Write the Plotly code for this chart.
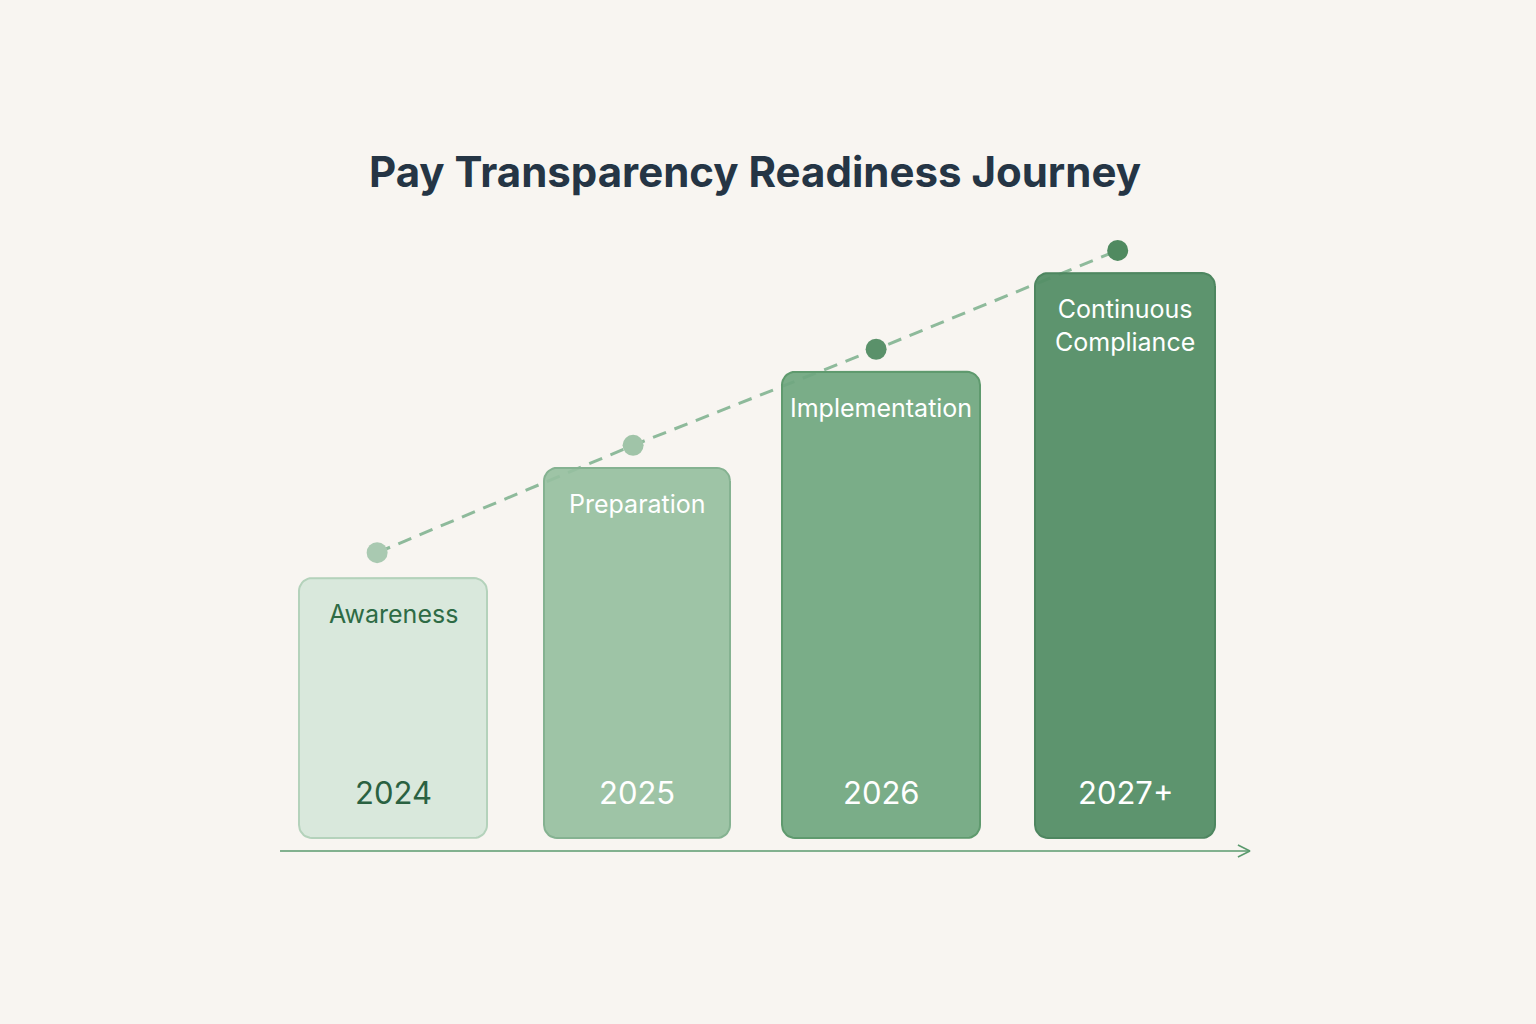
import numpy as np
import plotly.graph_objects as go

# ─────────────────────────── datos ───────────────────────────
STAGES = ["Awareness", "Preparation", "Implementation", "Continuous<br>Compliance"]
YEARS = ["2024", "2025", "2026", "2027+"]
READINESS = [46, 65.5, 82.5, 100]      # altura de cada barra
MILESTONES = [50.5, 69.5, 86.5, 104]   # puntos de la línea de tendencia

# ─────────────────────────── estilo ──────────────────────────
W, H = 1536, 1024
BG = "#f8f5f1"
PX_X = 244.0      # px por categoría
PX_Y = 5.65       # px por unidad
X0_PX, Y0_PX = 393, 838

BAR_W_PX = [188, 186, 198, 180]
RADIUS_PX = 13
DOT_SHIFT = [-0.065, -0.016, -0.02, -0.03]
FILLS = ["rgba(214,230,218,0.92)", "rgba(150,191,160,0.92)",
         "rgba(112,167,128,0.93)", "rgba(84,142,102,0.95)"]
EDGES = ["#b4d2bb", "#85b291", "#5f9a6e", "#4e8660"]
DOTS = ["#a9c9b1", "#a0c4a8", "#5a916a", "#508a60"]
NAME_COL = ["#2e6b45", "#ffffff", "#ffffff", "#ffffff"]
YEAR_COL = ["#2a6141", "#ffffff", "#ffffff", "#ffffff"]
FONT = "Inter"

xs = list(range(len(STAGES)))
x_range = [-X0_PX / PX_X, (W - X0_PX) / PX_X]
y_range = [-(H - Y0_PX) / PX_Y, Y0_PX / PX_Y]
dot_x = [x + s for x, s in zip(xs, DOT_SHIFT)]


def rounded_rect(xc, w, top, r_px):
    """Polígono de rectángulo redondeado en unidades de datos."""
    rx, ry = r_px / PX_X, r_px / PX_Y
    x0, x1, y0, y1 = xc - w / 2, xc + w / 2, 0, top
    pts = []
    corners = [(x1 - rx, y1 - ry, 0, 90), (x0 + rx, y1 - ry, 90, 180),
               (x0 + rx, y0 + ry, 180, 270), (x1 - rx, y0 + ry, 270, 360)]
    for cx, cy, a0, a1 in corners:
        t = np.radians(np.linspace(a0, a1, 10))
        pts += [(cx + rx * np.cos(a), cy + ry * np.sin(a)) for a in t]
    pts.append(pts[0])
    px, py = zip(*pts)
    return list(px), list(py)


fig = go.Figure()

# línea de tendencia punteada (por detrás de las barras)
fig.add_trace(go.Scatter(
    x=dot_x, y=MILESTONES, mode="lines",
    line=dict(color="rgba(130,180,145,0.9)", width=3, dash="14px,9px"),
    hoverinfo="skip", showlegend=False,
))

# barras redondeadas
for i, (x, v) in enumerate(zip(xs, READINESS)):
    bx, by = rounded_rect(x, BAR_W_PX[i] / PX_X, v, RADIUS_PX)
    fig.add_trace(go.Scatter(
        x=bx, y=by, mode="lines", fill="toself",
        fillcolor=FILLS[i], line=dict(color=EDGES[i], width=2),
        hoverinfo="skip", showlegend=False,
    ))

# puntos de hito
fig.add_trace(go.Scatter(
    x=dot_x, y=MILESTONES, mode="markers",
    marker=dict(size=21, color=DOTS, line=dict(width=0)),
    hovertext=[s.replace("<br>", " ") for s in STAGES], hoverinfo="text",
    showlegend=False,
))

# eje temporal con flecha
ax_y = -2.3
ax_x0, ax_x1 = xs[0] - 0.463, xs[-1] + 0.512
fig.add_trace(go.Scatter(
    x=[ax_x0, ax_x1], y=[ax_y, ax_y], mode="lines",
    line=dict(color="#5b9a6e", width=1.6), hoverinfo="skip", showlegend=False,
))
fig.add_trace(go.Scatter(
    x=[ax_x1 - 12 / PX_X, ax_x1, ax_x1 - 12 / PX_X],
    y=[ax_y + 6 / PX_Y, ax_y, ax_y - 6 / PX_Y], mode="lines",
    line=dict(color="#5b9a6e", width=1.6), hoverinfo="skip", showlegend=False,
))

# etiquetas dentro de las barras
for i, (x, v) in enumerate(zip(xs, READINESS)):
    fig.add_annotation(
        x=x, y=v, text=STAGES[i], showarrow=False, xref="x", yref="y",
        yanchor="top", yshift=-19, align="center",
        font=dict(family=FONT, size=25, color=NAME_COL[i]),
    )
    fig.add_annotation(
        x=x, y=0, text=YEARS[i], showarrow=False, xref="x", yref="y",
        yanchor="middle", yshift=46,
        font=dict(family=FONT, size=31, color=YEAR_COL[i]),
    )

fig.update_layout(
    width=W, height=H,
    margin=dict(l=0, r=0, t=0, b=0),
    paper_bgcolor=BG, plot_bgcolor=BG,
    title=dict(
        text="<b>Pay Transparency Readiness Journey</b>",
        x=755 / W, xanchor="center", y=1 - 172 / H, yanchor="middle",
        font=dict(family=FONT, size=42, color="#253545"),
    ),
    xaxis=dict(visible=False, range=x_range, fixedrange=True),
    yaxis=dict(visible=False, range=y_range, fixedrange=True),
    showlegend=False,
)

fig.write_html("out.html",
               config={"displayModeBar": False},
               post_script="document.body.style.margin='0';"
                           "document.body.style.background='" + BG + "';")
